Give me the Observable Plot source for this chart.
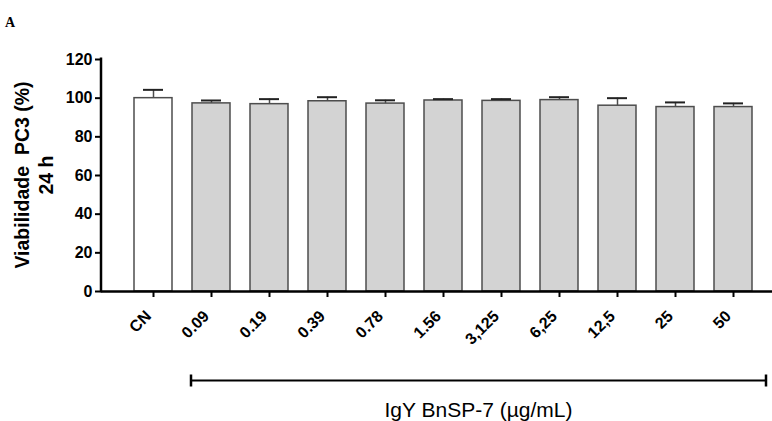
<!DOCTYPE html>
<html><head><meta charset="utf-8">
<script src="https://cdn.jsdelivr.net/npm/d3@7"></script>
<script src="https://cdn.jsdelivr.net/npm/@observablehq/plot@0.6"></script>
<style>body{margin:0;background:#fff}</style>
</head><body><div id="chart"></div>
<script>
const categories = ["CN","0.09","0.19","0.39","0.78","1.56","3,125","6,25","12,5","25","50"];
const means = [100.0, 97.3, 96.9, 98.4, 97.2, 98.8, 98.6, 99.0, 96.1, 95.4, 95.4];
const sds   = [4.3, 1.5, 2.6, 2.1, 1.7, 0.7, 0.9, 1.5, 3.9, 2.4, 1.9];
const yTicks = [0, 20, 40, 60, 80, 100, 120];
const yTitle = ["Viabilidade\u00a0 PC3 (%)", "24 h"];
const xTitle = "IgY BnSP-7 (\u00b5g/mL)";
const panelLetter = "A";

const data = categories.map((c, i) => ({cat: c, mean: means[i], top: means[i] + sds[i]}));
const control = data.filter(d => d.cat === "CN");
const treated = data.filter(d => d.cat !== "CN");

const chart = Plot.plot({
  width: 772, height: 421,
  marginTop: 59, marginBottom: 130, marginLeft: 101, marginRight: 0,
  style: {fontFamily: "'Liberation Sans', Arial, sans-serif", background: "#fff", color: "#000"},
  x: {domain: categories, range: [121.5, 763.2], paddingInner: 0.35, paddingOuter: 0.175, label: null},
  y: {domain: [0, 120], label: null},
  marks: [
    Plot.barY(control, {x: "cat", y: "mean", fill: "#fff", stroke: "#4d4d4d", strokeWidth: 1.5}),
    Plot.barY(treated, {x: "cat", y: "mean", fill: "#d3d3d3", stroke: "#4d4d4d", strokeWidth: 1.5}),
    Plot.ruleX(data, {x: "cat", y1: "mean", y2: "top", stroke: "#4d4d4d", strokeWidth: 1.5}),
    Plot.tickY(data, {x: "cat", y: "top", stroke: "#222", strokeWidth: 2, insetLeft: 9, insetRight: 9}),
    Plot.ruleY([0], {stroke: "#000", strokeWidth: 2.5}),
    Plot.axisY({ticks: yTicks, tickSize: 6, tickPadding: 3, strokeWidth: 2, fontSize: 16, fontWeight: "bold", label: null}),
    Plot.axisX({tickSize: 6, text: null, strokeWidth: 2, label: null}),
    Plot.axisX({tickSize: 0, tickRotate: -45, tickPadding: 22, dx: -5, fontSize: 16, fontWeight: "bold", label: null})
  ]
});
document.getElementById("chart").append(chart);

const svg = d3.select(chart);
const x = chart.scale("x"), y = chart.scale("y");
const bw = x.bandwidth;
// y axis line
svg.append("line").attr("x1", 101).attr("x2", 101)
  .attr("y1", y.apply(0) + 1.25).attr("y2", y.apply(120) - 1.5)
  .attr("stroke", "#000").attr("stroke-width", 2.5);
// y title
const yt = svg.append("text").attr("transform", `translate(22,${(y.apply(0) + y.apply(120)) / 2}) rotate(-90)`)
  .attr("text-anchor", "middle").attr("font-size", 19.5).attr("font-weight", "bold")
  .attr("font-family", "'Liberation Sans', Arial, sans-serif");
yt.append("tspan").attr("x", 0).attr("dy", "0.35em").text(yTitle[0]);
yt.append("tspan").attr("x", 0).attr("dy", "1.22em").text(yTitle[1]);
// panel letter
svg.append("text").attr("x", 10).attr("y", 27).attr("font-size", 14).attr("font-weight", "bold")
  .attr("font-family", "'Liberation Serif', 'Times New Roman', serif").text(panelLetter);
// bracket
const bx1 = x.apply("0.09") - 1, bx2 = x.apply("50") + bw + 14, by = 380.5;
svg.append("line").attr("x1", bx1).attr("x2", bx2).attr("y1", by).attr("y2", by).attr("stroke", "#000").attr("stroke-width", 2.2);
[bx1, bx2].forEach(v => svg.append("line").attr("x1", v).attr("x2", v).attr("y1", by - 6).attr("y2", by + 6).attr("stroke", "#000").attr("stroke-width", 2.5));
// x title
svg.append("text").attr("x", (bx1 + bx2) / 2).attr("y", 417).attr("text-anchor", "middle")
  .attr("font-size", 21).attr("font-family", "'Liberation Sans', Arial, sans-serif").text(xTitle);
</script>
</body></html>
